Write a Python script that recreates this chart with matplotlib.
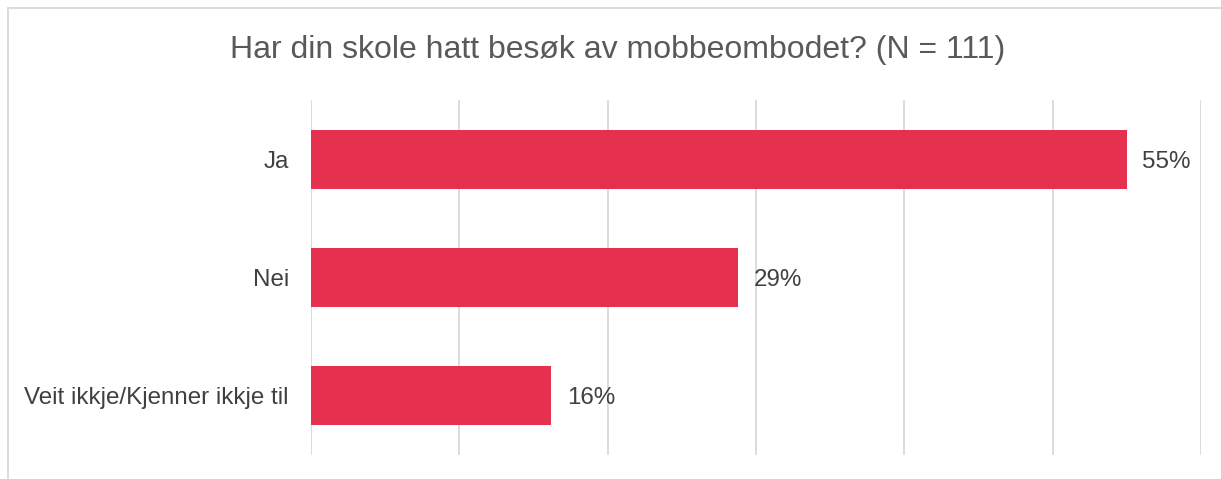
import matplotlib
matplotlib.use("Agg")
import matplotlib.pyplot as plt
from matplotlib.patches import Rectangle

categories = ["Ja", "Nei", "Veit ikkje/Kjenner ikkje til"]
values = [55.0, 28.8, 16.2]
labels = ["55%", "29%", "16%"]
title = "Har din skole hatt besøk av mobbeombodet? (N = 111)"

plt.rcParams['font.family'] = ['Liberation Sans', 'DejaVu Sans']

fig = plt.figure(figsize=(12.21, 4.79), dpi=100)
ax = fig.add_axes([311/1221, 1-455/479, 890/1221, 355/479])

y = list(range(len(categories)))
ax.barh(y, values, height=0.5, color="#E5304F", zorder=3)
ax.set_ylim(len(categories)-0.5, -0.5)
ax.set_xlim(0, 60)
ax.set_xticks(range(0, 61, 10))
ax.xaxis.grid(True, color="#D9D9D9", linewidth=1.3, zorder=0)
ax.tick_params(axis='x', length=0, labelbottom=False)
ax.tick_params(axis='y', length=0, pad=16, labelsize=17.4, labelcolor="#404040")
ax.set_yticks(y)
ax.set_yticklabels(categories)
for s in ax.spines.values():
    s.set_visible(False)

for yi, v, lab in zip(y, values, labels):
    ax.text(v + 1.05, yi, lab, va='center_baseline', ha='left', fontsize=17.4, color="#404040")

fig.text(0.506, 1-50/479, title, ha='center', va='center', fontsize=23, color="#595959")

fig.patches.append(Rectangle((8/1221, -0.1), 1.2, 1-8/479+0.1, transform=fig.transFigure,
                             fill=False, edgecolor="#D9D9D9", linewidth=1.3))

fig.savefig("out.png", dpi=100)
